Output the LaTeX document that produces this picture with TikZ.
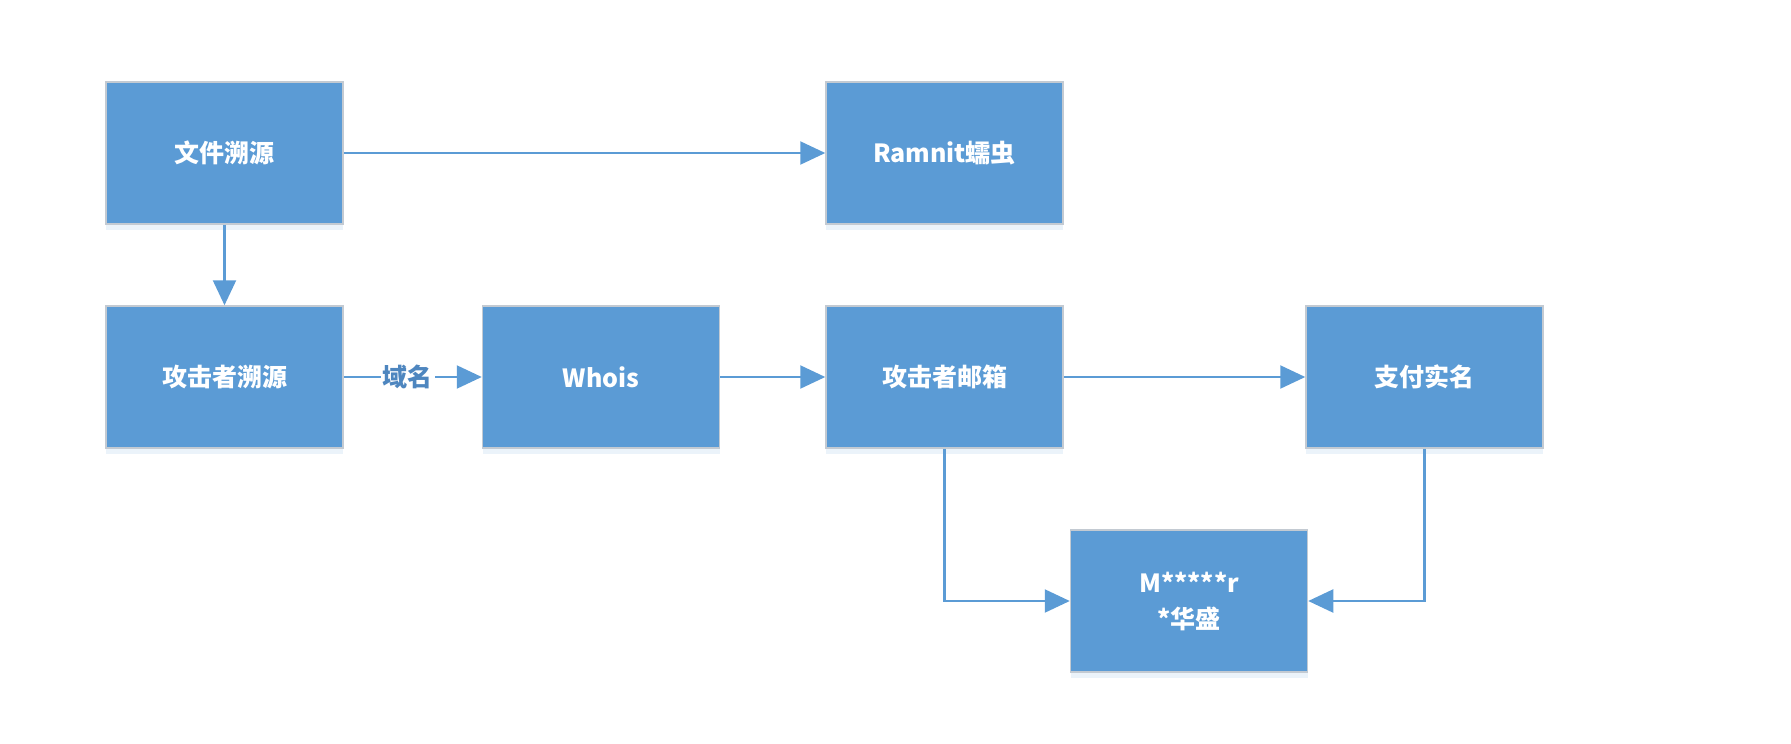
\documentclass[tikz,border=0pt]{standalone}
\usepackage{fontspec}
\setmainfont{Noto Sans CJK SC}
\usetikzlibrary{arrows.meta,shadows}
\definecolor{boxblue}{HTML}{5B9BD5}
\definecolor{boxedge}{HTML}{C3CAD2}
\definecolor{lblblue}{HTML}{4E86BF}
\tikzset{
  flowbox/.style={rectangle, fill=boxblue, draw=boxedge, line width=1.5pt,
    minimum width=237pt, minimum height=142pt, inner sep=0pt,
    text=white, align=center, font=\fontsize{25}{36}\selectfont\bfseries,
    drop shadow={opacity=0.12, shadow xshift=0pt, shadow yshift=-6pt, fill=boxblue}},
  conn/.style={draw=boxblue, line width=2.2pt,
    -{Triangle[length=25pt,width=23pt]}},
  edgelbl/.style={fill=white, text=lblblue, inner sep=2pt,
    font=\fontsize{25}{28}\selectfont\bfseries}
}
\begin{document}
\begin{tikzpicture}[x=1pt,y=-1pt]
\useasboundingbox (0,0) rectangle (1791,744);
\node[flowbox] (file) at (224.5,153) {文件溯源};
\node[flowbox] (ramnit) at (944.5,153) {Ramnit蠕虫};
\node[flowbox] (attacker) at (224.5,377) {攻击者溯源};
\node[flowbox] (whois) at (601,377) {Whois};
\node[flowbox] (mail) at (944.5,377) {攻击者邮箱};
\node[flowbox] (pay) at (1424.5,377) {支付实名};
\node[flowbox] (person) at (1189,601) {M*****r\\*华盛};
\draw[conn] (file) -- (ramnit);
\draw[conn] (file) -- (attacker);
\draw[conn] (attacker) -- node[edgelbl, xshift=-5pt] {域名} (whois);
\draw[conn] (whois) -- (mail);
\draw[conn] (mail) -- (pay);
\draw[conn] (mail.south) |- (person.west);
\draw[conn] (pay.south) |- (person.east);
\end{tikzpicture}
\end{document}
